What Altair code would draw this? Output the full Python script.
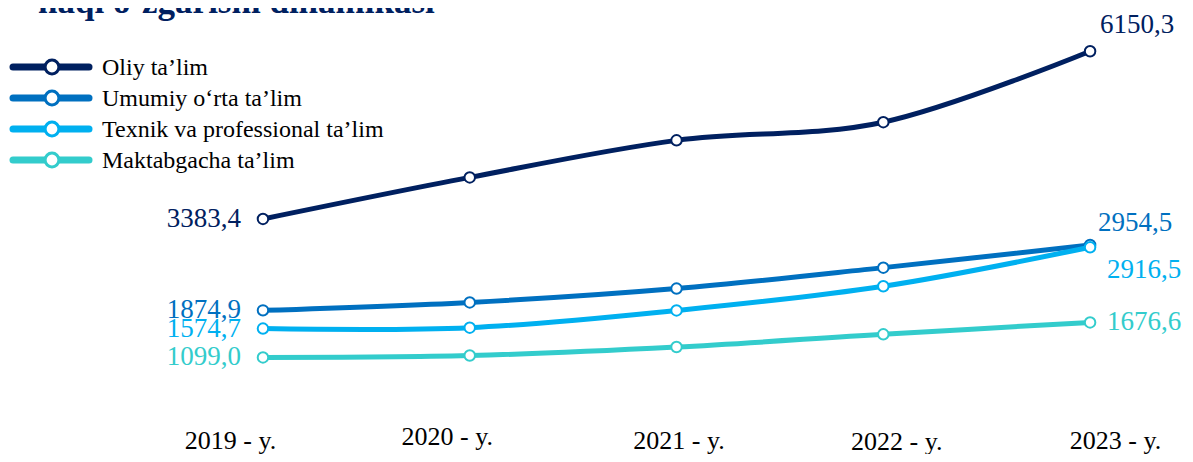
import altair as alt
import pandas as pd

years = [2019, 2020, 2021, 2022, 2023]
series = ["Oliy ta’lim", "Umumiy o‘rta ta’lim", "Texnik va professional ta’lim", "Maktabgacha ta’lim"]
oliy = [3383.4, 4069, 4680, 4980, 6150.3]
umumiy = [1874.9, 2006, 2235, 2580, 2954.5]
texnik = [1574.7, 1590, 1874, 2273, 2916.5]
maktab = [1099.0, 1130, 1270, 1480, 1676.6]
colors = ["#002060", "#0070C0", "#00B0F0", "#33CCCC"]
title_text = "haqi o‘zgarishi dinamikasi"

rows = []
for s, vals in zip(series, [oliy, umumiy, texnik, maktab]):
    for y, v in zip(years, vals):
        rows.append({"series": s, "year": y, "value": v,
                     "label": f"{v:.1f}".replace(".", ",")})
df = pd.DataFrame(rows)

FONT = "Liberation Serif"

# small horizontal / vertical shifts of the year labels, as in the reference
label_dx = {2019: -33, 2020: -23, 2021: 2, 2022: 13, 2023: 25}
label_pad = {2019: 24, 2020: 20, 2021: 24, 2022: 25, 2023: 24}

off_cond = {"condition": [{"test": f"datum.value == {k}", "value": v} for k, v in label_dx.items()],
            "value": 0}
pad_cond = {"condition": [{"test": f"datum.value == {k}", "value": v} for k, v in label_pad.items()],
            "value": 24}

x = alt.X("year:Q",
          scale=alt.Scale(domain=[2017.767, 2023.459], nice=False, zero=False),
          axis=alt.Axis(values=years, labelExpr="datum.value + ' - y.'", domain=False,
                        ticks=False, grid=False, labelFont=FONT, labelFontSize=26,
                        labelColor="black", labelBaseline="alphabetic",
                        labelPadding=pad_cond, labelOffset=off_cond,
                        title=None, labelFlush=False))
y = alt.Y("value:Q", scale=alt.Scale(domain=[0, 6864], nice=False), axis=None)
col = alt.Color("series:N", scale=alt.Scale(domain=series, range=colors), legend=None)

base = alt.Chart(df)
lines = base.mark_line(interpolate="cardinal", strokeWidth=5, strokeCap="round").encode(
    x=x, y=y, color=col, detail="series:N")
points = base.mark_point(shape="circle", size=110, strokeWidth=2, opacity=1).encode(
    x=x, y=y, stroke=alt.Stroke("series:N", scale=alt.Scale(domain=series, range=colors), legend=None),
    fill=alt.value("white"), fillOpacity=alt.value(1))

lab_first = base.transform_filter("datum.year == 2019").mark_text(
    align="right", baseline="middle", dx=-22, font=FONT, fontSize=27).encode(
    x=x, y=y, text="label:N", color=col)

last_offsets = {series[0]: (10, -26), series[1]: (8, -22), series[2]: (17, 23), series[3]: (17, 0)}
lab_last = []
for s in series:
    dx, dy = last_offsets[s]
    lab_last.append(base.transform_filter(alt.datum.series == s).transform_filter("datum.year == 2023")
                    .mark_text(align="left", baseline="middle", dx=dx, dy=dy, font=FONT, fontSize=27)
                    .encode(x=x, y=y, text="label:N", color=col))

legend_layers = []
for i, (s, c) in enumerate(zip(series, colors)):
    yy = 59 + 31 * i
    ld = alt.Chart(pd.DataFrame({"series": [s]}))
    legend_layers.append(ld.mark_rule(strokeWidth=7, strokeCap="round", color=c).encode(
        x=alt.value(5), x2=alt.value(81), y=alt.value(yy)))
    legend_layers.append(ld.mark_point(shape="circle", size=190, strokeWidth=3, color=c,
                                       fill="white", fillOpacity=1, opacity=1).encode(
        x=alt.value(44), y=alt.value(yy)))
    legend_layers.append(ld.mark_text(align="left", baseline="middle", font=FONT, fontSize=24,
                                      color="black").encode(
        x=alt.value(94), y=alt.value(yy + 1), text="series:N"))

title = alt.Chart(pd.DataFrame({"t": [title_text]})).mark_text(
    align="left", baseline="alphabetic", font=FONT, fontWeight="bold", fontSize=35,
    color="#002060").encode(x=alt.value(30), y=alt.value(5), text="t:N")

chart = alt.layer(lines, points, lab_first, *lab_last, *legend_layers, title).properties(
    width=1177, height=416,
    autosize=alt.AutoSizeParams(type="none"),
    padding={"left": 0, "top": 0, "right": 0, "bottom": 30},
).configure_view(stroke=None)

chart.save("out.html", embed_options={"renderer": "svg", "actions": False})
